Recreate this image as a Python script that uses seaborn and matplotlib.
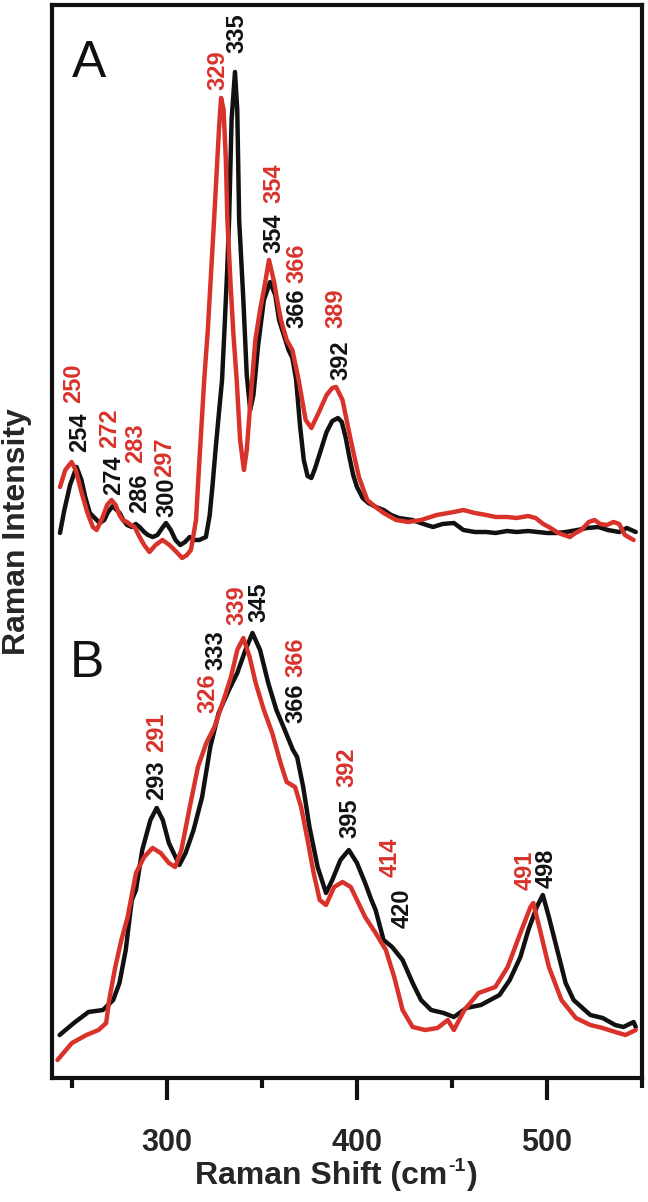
import matplotlib
matplotlib.use("Agg")
import matplotlib.pyplot as plt
import seaborn as sns
import pandas as pd
from matplotlib.ticker import MultipleLocator

BLACK = "#111111"
RED = "#d8322b"

# intensities are in arbitrary units (0 = bottom of frame)
TOP = 1078

# panel A, black trace
a_black_x = [243.7, 246, 249, 252.4, 255, 257, 259.4, 262, 264.6, 267, 269, 271.5, 273.5, 275.1,
             277, 279, 281.5, 283.5, 285.6, 288, 290, 292.5, 295, 297.5, 299.5, 302, 304.5, 307,
             309.5, 312, 314.5, 317, 320.5, 322.5, 324, 325.7, 327.5, 329, 330.5, 331.7, 332.7,
             334, 335.8, 337, 338, 340.2, 342, 343.8, 345.5, 348, 351, 354.3, 357, 359, 361.5,
             364, 366, 368, 370, 372, 374, 376, 378, 381, 384, 387, 390, 392, 394, 396, 398, 400,
             403, 406, 410, 414, 418, 422, 429, 435, 440, 445, 451, 456, 462, 468, 473, 479, 484,
             490, 495, 500, 505, 510, 516, 521, 527, 532, 538, 542, 546.7]
a_black_px = [533, 510, 485, 467, 480, 497, 513, 518, 523, 520, 512, 506, 510, 513,
              520, 525, 527, 524, 527, 532, 535, 537, 535, 528, 523, 530, 540, 545,
              542, 537, 540, 540, 537, 515, 485, 447, 410, 380, 320, 270, 220,
              120, 72, 110, 220, 300, 375, 410, 395, 345, 300, 282, 295, 320, 335,
              350, 358, 380, 425, 460, 476, 478, 468, 450, 432, 421, 418, 422, 437, 457, 475, 487,
              498, 503, 507, 510, 515, 518, 520, 524, 527, 524, 523, 530, 532, 532, 533, 531, 532,
              531, 532, 533, 533, 532, 530, 528, 527, 530, 532, 528, 532]

# panel A, red trace
a_red_x = [243.7, 246.5, 249.8, 252, 255, 258, 261, 263, 266, 268.5, 270.8, 273, 275, 276.7, 279,
           281, 283, 285.6, 288, 290.8, 294, 297.6, 301.3, 304, 308, 310.5, 312.6, 315.3, 317,
           319.6, 321.5, 323, 324.8, 326.5, 327.5, 328.5, 329.8, 331, 331.8, 333.5, 335, 336.7,
           338.5, 340.5, 342, 344, 346.5, 349, 351, 353.7, 356.5, 358, 360, 363, 366, 369, 373,
           376, 380, 384, 387, 389, 392.4, 396.7, 401, 405.4, 409.8, 414, 420.6, 427, 433.7, 442,
           451, 456, 462, 468, 473, 479, 484, 490, 494, 498, 501, 506, 512, 515, 518, 522, 525,
           528, 531.5, 535, 538, 541, 545.6]
a_red_px = [487, 470, 462, 470, 492, 512, 527, 530, 518, 505, 500, 505, 515, 520, 522,
            525, 527, 537, 545, 552, 545, 540, 545, 550, 558, 555, 550, 520, 463,
            380, 330, 280, 220, 160, 125, 98, 110, 160, 220, 285, 335, 380,
            440, 470, 450, 400, 340, 310, 290, 260, 283, 300, 320, 340, 350, 377, 420,
            428, 412, 395, 388, 387, 400, 440, 477, 500, 507, 513, 520, 522, 520, 515,
            512, 510, 513, 515, 517, 517, 518, 516, 518, 524, 527, 533, 537, 533, 530, 522, 520,
            524, 525, 522, 524, 535, 540]

# panel B, black trace
b_black_x = [243.5, 251, 258.7, 266.3, 271.7, 275, 278.3, 280.4, 281.5, 283.7, 287, 291.3, 294.6,
             297.8, 301, 306.5, 309.8, 314, 318.5, 322.8, 327.2, 332.6, 337, 341.3, 345, 349,
             353.3, 357.6, 362, 366.3, 368.5, 371.7, 375, 379.3, 383.7, 387, 391.3, 395.7, 400,
             404.3, 407.6, 409.8, 414, 418.5, 424, 429.3, 433.7, 439, 445.6, 451, 457.6, 465.2,
             475, 480.4, 486, 490.2, 494.6, 497.8, 501, 505.4, 509.8, 514, 522.8, 529.3, 535.9,
             540.2, 545.6, 546.7]
b_black_px = [1035, 1023, 1012, 1010, 1000, 983, 950, 917, 900, 890, 850, 820, 808,
              820, 843, 865, 853, 830, 797, 747, 713, 690, 673, 650, 633, 650,
              683, 710, 730, 750, 757, 787, 827, 867, 893, 880, 860, 850, 863,
              883, 900, 910, 940, 947, 960, 983, 1000, 1010, 1013, 1017, 1008, 1005,
              995, 980, 957, 930, 907, 895, 917, 950, 983, 1000, 1015, 1018, 1025,
              1027, 1022, 1027]

# panel B, red trace
b_red_x = [242.4, 250, 257.6, 264, 268, 269.6, 272.8, 276, 279.3, 281, 283.7, 288, 292.4, 296.7,
           301, 304.3, 307.6, 312, 316.3, 320.7, 325, 329.3, 333.7, 337, 340.2, 343.5, 346.7,
           351, 355.4, 359.8, 363, 367.4, 370.6, 374, 377.2, 380.4, 383.7, 388, 392.4, 396.7,
           400, 404.3, 409.8, 415.2, 419.6, 424, 429.3, 435.9, 442.4, 447.8, 451, 456.5, 464,
           472.8, 479.3, 486, 491.3, 492.8, 496.7, 501, 507.6, 515.2, 522.8, 529.3, 535.9,
           541.3, 546.7]
b_red_px = [1060, 1043, 1035, 1030, 1023, 1000, 967, 940, 917, 900, 873, 857, 848, 853,
            863, 867, 850, 807, 767, 743, 727, 703, 677, 650, 638, 657, 683,
            710, 733, 763, 782, 787, 807, 840, 873, 900, 905, 887, 882, 887,
            900, 917, 933, 950, 977, 1010, 1027, 1030, 1028, 1020, 1030, 1010, 993,
            987, 967, 933, 907, 903, 933, 967, 1000, 1018, 1025, 1028, 1032,
            1035, 1030]

# peak labels: text, position, bottom of text (same units), colour
label_text = ["335", "329", "354", "354", "366", "366", "389", "392",
              "250", "254", "272", "274", "283", "286", "297", "300",
              "293", "291", "326", "333", "339", "345", "366", "366",
              "392", "395", "414", "420", "491", "498"]
label_x = [337, 326.7, 356.5, 356.5, 368.5, 368.5, 389, 391.3,
           251, 254.3, 270, 271.7, 283.7, 285.4, 299, 300,
           294.6, 294.6, 321.7, 326, 337, 348.5, 368, 368,
           394.6, 396.3, 417.4, 424, 488.5, 499.5]
label_px = [53, 90, 203, 253, 283, 328, 328, 380,
            403, 452, 448, 495, 463, 513, 477, 517,
            800, 752, 713, 670, 625, 622, 677, 723,
            787, 838, 877, 928, 890, 888]
label_col = ["k", "r", "r", "k", "r", "k", "r", "k",
             "r", "k", "r", "k", "r", "k", "r", "k",
             "k", "r", "r", "k", "r", "k", "r", "k",
             "r", "k", "r", "k", "r", "k"]


def trace(xs, px):
    return pd.DataFrame({"shift": xs, "intensity": [TOP - p for p in px]})


sns.set_style("white")
plt.rcParams["font.family"] = ["Liberation Sans", "DejaVu Sans"]

fig = plt.figure(figsize=(6.48, 12.02), dpi=100)
ax = fig.add_axes([52 / 648, 124 / 1202, 590 / 648, 1073 / 1202])

for xs, px, col in [(a_black_x, a_black_px, BLACK), (b_black_x, b_black_px, BLACK),
                    (a_red_x, a_red_px, RED), (b_red_x, b_red_px, RED)]:
    sns.lineplot(data=trace(xs, px), x="shift", y="intensity", sort=False,
                 color=col, linewidth=3.2, ax=ax)

for s, x, p, c in zip(label_text, label_x, label_px, label_col):
    ax.text(x, TOP - p, s, rotation=90, ha="center", va="bottom",
            color=BLACK if c == "k" else RED, fontsize=17, fontweight="bold")

ax.text(250, TOP - 77, "A", fontsize=37, ha="left", va="baseline", color=BLACK)
ax.text(249, TOP - 677, "B", fontsize=37, ha="left", va="baseline", color=BLACK)

ax.set_xlim(239.5, 550)
ax.set_ylim(0, TOP - 5)
ax.set_xlabel("")
ax.set_ylabel("")
ax.set_yticks([])
ax.xaxis.set_major_locator(MultipleLocator(100))
ax.xaxis.set_minor_locator(MultipleLocator(50))
ax.tick_params(axis="x", which="major", direction="out", length=16, width=3,
               pad=20, labelsize=22, bottom=True, color=BLACK)
ax.tick_params(axis="x", which="minor", direction="out", length=7, width=3,
               bottom=True, color=BLACK)
for lab in ax.get_xticklabels():
    lab.set_fontweight("bold")
for sp in ax.spines.values():
    sp.set_visible(True)
    sp.set_linewidth(3)
    sp.set_color(BLACK)

# x label with a hyphen superscript, built from three pieces
ylab = 1 - 1184 / 1202
t1 = fig.text(195 / 648, ylab, "Raman Shift (cm", ha="left", va="baseline",
              fontsize=23, fontweight="bold")
fig.canvas.draw()
r = fig.canvas.get_renderer()
e1 = t1.get_window_extent(r)
t2 = fig.text(e1.x1 / 648 + 0.002, ylab + 0.011, "-1", ha="left", va="baseline",
              fontsize=14, fontweight="bold")
e2 = t2.get_window_extent(r)
fig.text(e2.x1 / 648 + 0.002, ylab, ")", ha="left", va="baseline",
         fontsize=23, fontweight="bold")

fig.text(16.6 / 648, 1 - 532 / 1202, "Raman Intensity", rotation=90, ha="center",
         va="center", fontsize=23, fontweight="bold")

fig.savefig("out.png", dpi=100)
